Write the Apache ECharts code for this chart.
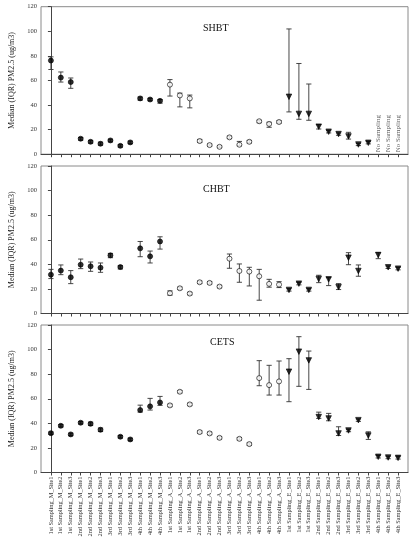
<!DOCTYPE html>
<html><head><meta charset="utf-8">
<script src="https://cdn.jsdelivr.net/npm/echarts@6/dist/echarts.min.js"></script>
<style>html,body{margin:0;padding:0;background:#fff}#c{width:411px;height:550px}</style>
</head><body><div id="c"></div>
<script>
const categories = [
 "1st Sampling_M_Site1","1st Sampling_M_Site2","1st Sampling_M_Site3",
 "2nd Sampling_M_Site1","2nd Sampling_M_Site2","2nd Sampling_M_Site3",
 "3rd Sampling_M_Site1","3rd Sampling_M_Site2","3rd Sampling_M_Site3",
 "4th Sampling_M_Site1","4th Sampling_M_Site2","4th Sampling_M_Site3",
 "1st Sampling_A_Site1","1st Sampling_A_Site2","1st Sampling_A_Site3",
 "2nd Sampling_A_Site1","2nd Sampling_A_Site2","2nd Sampling_A_Site3",
 "3rd Sampling_A_Site1","3rd Sampling_A_Site2","3rd Sampling_A_Site3",
 "4th Sampling_A_Site1","4th Sampling_A_Site2","4th Sampling_A_Site3",
 "1st Sampling_E_Site1","1st Sampling_E_Site2","1st Sampling_E_Site3",
 "2nd Sampling_E_Site1","2nd Sampling_E_Site2","2nd Sampling_E_Site3",
 "3rd Sampling_E_Site1","3rd Sampling_E_Site2","3rd Sampling_E_Site3",
 "4th Sampling_E_Site1","4th Sampling_E_Site2","4th Sampling_E_Site3"
];
const yTicks = [0, 20, 40, 60, 80, 100, 120];
const panelTitles = ["SHBT", "CHBT", "CETS"];
const noSamplingLabel = "No Sampling";
const noSamplingSHBT = [33, 34, 35];

// SHBT
const shbtMedian = [76.2,62.3,58.7,12.6,10.1,8.5,11.2,6.8,9.6,45.4,44.5,43.4,
  56.6,47.8,45.4,10.7,7.4,6.0,13.7,7.7,10.1,26.8,24.6,26.2,
  46.7,32.8,32.8,22.4,18.3,16.4,14.5,7.9,9.3,null,null,null];
const shbtLow = [68.9,58.7,53.6,11.4,9.0,7.4,10.1,5.8,8.6,44.0,43.5,41.5,
  47.3,38.5,37.7,9.6,6.6,5.3,12.8,6.8,9.1,25.6,21.9,25.2,
  34.4,28.4,27.6,20.5,17.3,15.4,12.3,7.0,8.4,null,null,null];
const shbtHigh = [79.2,66.9,62.0,13.6,11.2,9.8,12.2,7.8,10.6,46.5,45.4,44.5,
  60.7,49.7,48.1,12.0,8.3,6.8,14.7,10.4,11.2,27.6,26.0,27.3,
  101.9,73.8,57.1,24.0,19.2,17.3,17.8,8.8,10.3,null,null,null];

// CHBT
const chbtMedian = [31.6,34.9,29.5,39.7,38.4,37.3,47.3,37.8,null,53.0,46.5,58.6,
  16.5,20.5,16.2,25.4,24.9,21.9,44.6,34.6,34.1,30.3,24.1,23.5,
  19.2,24.3,19.2,28.1,27.8,21.4,45.4,34.6,null,47.6,37.6,36.5];
const chbtLow = [28.4,31.6,24.3,36.5,34.3,33.5,45.4,36.2,null,46.2,41.1,52.4,
  14.9,19.5,15.2,24.4,23.9,20.9,36.8,25.4,22.4,10.8,21.4,21.1,
  18.2,23.3,18.2,25.1,22.7,19.5,39.7,30.3,null,44.6,36.6,35.5];
const chbtHigh = [35.9,39.5,34.9,44.3,41.9,41.1,48.9,38.9,null,58.6,50.8,62.4,
  18.4,21.5,17.2,26.4,25.9,22.9,48.4,40.3,37.6,35.9,27.8,25.9,
  20.2,25.3,20.2,31.1,29.2,24.3,49.5,39.5,null,49.5,38.6,37.5];

// CETS
const cetsMedian = [32.0,38.0,31.0,40.5,39.6,34.8,null,29.1,26.9,50.8,53.8,57.0,
  54.6,65.7,55.4,32.9,31.8,28.2,null,27.4,23.1,76.8,71.1,74.1,
  82.0,98.3,91.2,45.1,44.0,31.8,34.2,42.6,30.1,12.8,12.2,11.9];
const cetsLow = [31.0,37.0,30.0,39.5,38.3,33.3,null,28.1,25.9,49.1,50.8,54.6,
  53.6,64.7,54.4,31.9,30.8,27.2,null,26.4,22.1,70.6,63.0,63.0,
  57.6,70.1,67.6,44.0,42.1,30.1,33.2,41.6,26.9,11.8,11.2,10.9];
const cetsHigh = [33.0,39.0,32.0,41.5,41.0,36.2,null,30.1,27.9,54.8,60.3,61.9,
  55.6,66.7,56.4,33.9,32.8,29.2,null,28.4,24.1,91.0,87.2,90.7,
  92.6,110.5,98.8,49.1,48.1,37.2,35.2,43.6,33.1,13.8,13.2,12.9];

const panels = [
  {median: shbtMedian, low: shbtLow, high: shbtHigh},
  {median: chbtMedian, low: chbtLow, high: chbtHigh},
  {median: cetsMedian, low: cetsLow, high: cetsHigh}
];

const FONT = "Liberation Serif";
const gridTops = [6.7, 166, 325];
const gridH = 147.5;
const idx = categories.map((_, i) => i);

const grids = [], xAxes = [], yAxes = [], series = [], titles = [];
const titlePos = [[198, 18], [198, 179], [205, 332]];

panels.forEach((p, g) => {
  grids.push({left: 35, right: 3, top: gridTops[g], height: gridH, show: true,
    borderColor: '#8a8a8a', borderWidth: 1, backgroundColor: 'transparent'});
  xAxes.push({type: 'value', gridIndex: g, min: -1, max: 36, interval: 1,
    splitLine: {show: false},
    axisLine: {show: true, onZero: false, lineStyle: {color: '#444', width: 1}},
    axisTick: {show: true, length: 3, customValues: idx, lineStyle: {color: '#444'}},
    axisLabel: {show: g === 2, customValues: idx, rotate: 90, fontFamily: FONT, fontSize: 6.3,
      color: '#333', margin: 4, formatter: v => categories[Math.round(v)] || ''}
  });
  yAxes.push({type: 'value', gridIndex: g, min: 0, max: 120, interval: 20,
    name: 'Median (IQR) PM2.5 (ug/m3)', nameLocation: 'middle', nameGap: 25,
    nameTextStyle: {fontFamily: FONT, fontSize: 8, color: '#222'},
    splitLine: {show: false},
    axisLine: {show: true, lineStyle: {color: '#444', width: 1}},
    axisTick: {show: true, length: 3, lineStyle: {color: '#444'}},
    axisLabel: {fontFamily: FONT, fontSize: 6.5, color: '#333', margin: 4,
      customValues: yTicks}
  });
  titles.push({text: panelTitles[g], left: titlePos[g][0], top: titlePos[g][1],
    textStyle: {fontFamily: FONT, fontSize: 10, fontWeight: 'normal', color: '#111'}});

  const errData = [];
  p.median.forEach((m, i) => { if (m != null) errData.push([i, p.low[i], p.high[i]]); });
  series.push({type: 'custom', xAxisIndex: g, yAxisIndex: g, data: errData, z: 2,
    renderItem: (params, api) => {
      const x = api.value(0);
      const a = api.coord([x, api.value(1)]);
      const b = api.coord([x, api.value(2)]);
      const w = 2.6;
      const st = {stroke: '#333', lineWidth: 0.9};
      return {type: 'group', children: [
        {type: 'line', shape: {x1: a[0], y1: a[1], x2: b[0], y2: b[1]}, style: st},
        {type: 'line', shape: {x1: a[0]-w, y1: a[1], x2: a[0]+w, y2: a[1]}, style: st},
        {type: 'line', shape: {x1: b[0]-w, y1: b[1], x2: b[0]+w, y2: b[1]}, style: st}
      ]};
    }});
  const groups = [
    {from: 0, to: 12, symbol: 'circle', rot: 0, fill: '#000', size: 5},
    {from: 12, to: 24, symbol: 'circle', rot: 0, fill: '#fff', size: 5},
    {from: 24, to: 36, symbol: 'triangle', rot: 180, fill: '#000', size: 5.5}
  ];
  groups.forEach(gr => {
    const d = [];
    for (let i = gr.from; i < gr.to; i++) if (p.median[i] != null) d.push([i, p.median[i]]);
    series.push({type: 'scatter', xAxisIndex: g, yAxisIndex: g, data: d, z: 3,
      symbol: gr.symbol, symbolRotate: gr.rot, symbolSize: gr.size,
      itemStyle: {color: gr.fill, borderColor: '#000', borderWidth: 0.8}});
  });
});

series.push({type: 'scatter', xAxisIndex: 0, yAxisIndex: 0, symbolSize: 0, silent: true,
  data: noSamplingSHBT.map(i => [i, 0]),
  label: {show: true, formatter: noSamplingLabel, rotate: 90, position: 'top', distance: 2,
    align: 'left', verticalAlign: 'middle', fontFamily: FONT, fontSize: 7, color: '#333'}});

const chart = echarts.init(document.getElementById('c'), null, {renderer: 'canvas'});
chart.setOption({animation: false, backgroundColor: '#fff', title: titles,
  grid: grids, xAxis: xAxes, yAxis: yAxes, series: series});
</script></body></html>
